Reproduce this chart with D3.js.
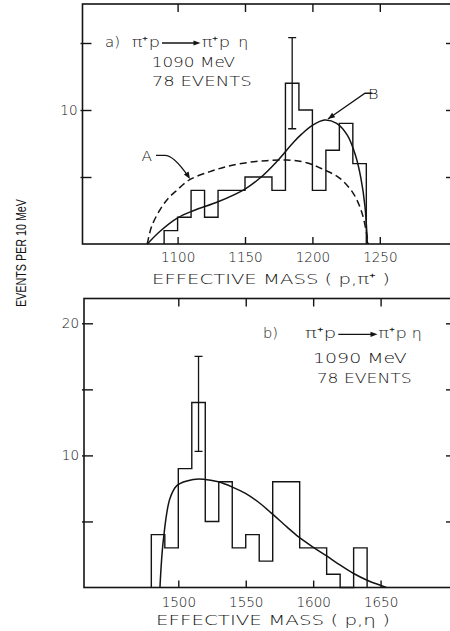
<!DOCTYPE html>
<html>
<head>
<meta charset="utf-8">
<script src="https://cdn.jsdelivr.net/npm/d3@7"></script>
<style>
  html, body { margin: 0; padding: 0; background: #fff; }
  svg { display: block; }
  text { font-family: "DejaVu Sans", sans-serif; font-weight: 300; fill: #141414; }
</style>
</head>
<body>
<svg id="chart" width="450" height="631"></svg>
<script>
// ---------- Panel (a): effective mass (p, pi+) ----------
const edgesA  = [1090, 1100, 1110, 1120, 1130, 1140, 1150, 1160, 1170, 1180, 1190, 1200, 1210, 1220, 1230, 1240];
const countsA = [1, 2, 4, 2, 4, 4, 5, 5, 4, 12, 10, 4, 7, 9, 6];
const errorA  = [1185, 8.6, 15.4];           // bin centre, low, high
// curve A (dashed): phase space
const curveAMass  = [1077.5, 1080.7, 1086.9, 1093, 1099.3, 1109, 1124, 1136.3, 1151.2, 1166, 1181, 1195.7, 1208, 1220.4, 1230.3, 1236.5, 1240.2, 1241.4];
const curveAValue = [0, 1.3, 2.55, 3.4, 4.0, 4.8, 5.4, 5.77, 6.07, 6.22, 6.27, 6.07, 5.57, 4.9, 3.78, 2.41, 0.8, 0];
// curve B (solid)
const curveBMass  = [1077.5, 1087, 1100, 1112, 1130, 1150, 1162, 1174, 1186, 1192, 1200, 1209, 1218, 1226, 1232, 1236, 1239, 1240.8];
const curveBValue = [0, 0.95, 1.95, 2.5, 3.15, 4.1, 5.0, 6.2, 7.6, 8.2, 8.85, 9.25, 9.0, 8.1, 6.6, 4.9, 2.8, 0];
const xTicksA = [1100, 1150, 1200, 1250];
const yTicksA = [5, 10, 15];
const yLabelsA = [10];

// ---------- Panel (b): effective mass (p, eta) ----------
const edgesB  = [1480, 1490, 1500, 1510, 1520, 1530, 1540, 1550, 1560, 1570, 1580, 1590, 1600, 1610, 1620, 1630, 1640];
const countsB = [4, 3, 9, 14, 5, 8, 3, 4, 2, 8, 8, 3, 3, 1, 0, 3];
const errorB  = [1515, 10.3, 17.5];
const curveCMass  = [1486.4, 1488.9, 1493.8, 1499.3, 1511.1, 1518.6, 1529.7, 1539.7, 1549.8, 1560.7, 1569.9, 1580.5, 1589.2, 1599.6, 1610.3, 1620.1, 1630, 1640, 1649.8, 1654.3];
const curveCValue = [0, 3.58, 6.74, 7.75, 8.18, 8.2, 8.0, 7.62, 7.12, 6.36, 5.55, 4.59, 3.83, 3.08, 2.37, 1.69, 1.06, 0.55, 0.17, 0];
const xTicksB = [1500, 1550, 1600, 1650];
const yTicksB = [5, 10, 15, 20];
const yLabelsB = [10, 20];

const ink = "#141414";
const svg = d3.select("#chart");

function txt(g, str, x0, x1, baseline, size) {
  return g.append("text")
    .attr("x", x0).attr("y", baseline)
    .attr("font-size", size)
    .attr("textLength", x1 - x0)
    .attr("lengthAdjust", "spacingAndGlyphs")
    .text(str);
}

function arrowHead(g, tipX, tipY, angle, len, half) {
  const c = Math.cos(angle), s = Math.sin(angle);
  const bx = tipX - len * c, by = tipY - len * s;
  g.append("path")
    .attr("d", `M${tipX},${tipY}L${bx - half * s},${by + half * c}L${bx + half * s},${by - half * c}Z`)
    .attr("fill", ink);
}

function drawPanel(cfg) {
  const g = svg.append("g");
  const x = d3.scaleLinear().domain(cfg.xKnown).range(cfg.xPix);
  const y = d3.scaleLinear().domain(cfg.yKnown).range(cfg.yPix);
  const base = y(0);

  // frame (right side runs just past the page edge)
  g.append("rect")
    .attr("x", cfg.left).attr("y", cfg.top)
    .attr("width", 453 - cfg.left).attr("height", base - cfg.top)
    .attr("fill", "none").attr("stroke", ink).attr("stroke-width", 1.6);

  const styleAxis = a => {
    a.attr("font-family", null).attr("font-size", null).attr("color", ink);
    a.select(".domain").remove();
    a.selectAll(".tick line").attr("stroke-width", 1.4);
  };

  // bottom axis: inward ticks, numeric labels
  g.append("g").attr("transform", `translate(0,${base})`)
    .call(d3.axisBottom(x).tickValues(cfg.xTicks).tickSizeInner(-7).tickSizeOuter(0)
      .tickPadding(cfg.xPad).tickFormat(d3.format("d")))
    .call(styleAxis)
    .call(a => a.selectAll("text").attr("font-size", 13.5).attr("fill", ink));

  // top border ticks
  g.append("g").attr("transform", `translate(0,${cfg.top})`)
    .call(d3.axisTop(x).tickValues(cfg.xTicks).tickSizeInner(-8).tickSizeOuter(0).tickFormat(""))
    .call(styleAxis);

  // left axis
  g.append("g").attr("transform", `translate(${cfg.left},0)`)
    .call(d3.axisLeft(y).tickValues(cfg.yTicks).tickSizeInner(-9).tickSizeOuter(0)
      .tickPadding(5).tickFormat(d => cfg.yLabels.includes(d) ? d3.format("d")(d) : ""))
    .call(styleAxis)
    .call(a => a.selectAll(".tick line").attr("x1", -2))
    .call(a => a.selectAll("text").attr("font-size", 13.5).attr("fill", ink));

  // right border ticks
  g.append("g").attr("transform", `translate(453,0)`)
    .call(d3.axisRight(y).tickValues(cfg.yTicks).tickSizeInner(-7).tickSizeOuter(0).tickFormat(""))
    .call(styleAxis);

  // histogram outline
  const pts = [[cfg.edges[0], 0]];
  cfg.counts.forEach((c, i) => { pts.push([cfg.edges[i], c]); pts.push([cfg.edges[i + 1], c]); });
  pts.push([cfg.edges[cfg.edges.length - 1], 0]);
  g.append("path")
    .attr("d", d3.line().x(d => x(d[0])).y(d => y(d[1]))(pts))
    .attr("fill", "none").attr("stroke", ink).attr("stroke-width", 1.4)
    .attr("stroke-linejoin", "miter");

  // error bar
  const [em, lo, hi] = cfg.err;
  const ex = x(em);
  g.append("path")
    .attr("d", `M${ex},${y(lo)}V${y(hi)}M${ex - 4},${y(lo)}H${ex + 4}M${ex - 4},${y(hi)}H${ex + 4}`)
    .attr("fill", "none").attr("stroke", ink).attr("stroke-width", 1.3);

  // model curves
  const line = d3.line().x(d => x(d[0])).y(d => y(d[1])).curve(d3.curveCatmullRom.alpha(0.5));
  cfg.curves.forEach(c => {
    g.append("path")
      .attr("d", line(d3.zip(c.mass, c.value)))
      .attr("fill", "none").attr("stroke", ink).attr("stroke-width", 1.5)
      .attr("stroke-dasharray", c.dash || null);
  });

  return { g, x, y };
}

// ----- panel (a) -----
const pA = drawPanel({
  xKnown: [1100, 1250], xPix: [177.6, 379.8],
  yKnown: [0, 10], yPix: [244, 110],
  left: 82.5, top: 4,
  xTicks: xTicksA, yTicks: yTicksA, yLabels: yLabelsA, xPad: 8.5,
  edges: edgesA, counts: countsA, err: errorA,
  curves: [
    { mass: curveAMass, value: curveAValue, dash: "7,4" },
    { mass: curveBMass, value: curveBValue }
  ]
});

// ----- panel (b) -----
const pB = drawPanel({
  xKnown: [1500, 1650], xPix: [178.3, 380.6],
  yKnown: [0, 20], yPix: [587.5, 323.3],
  left: 84, top: 298.5,
  xTicks: xTicksB, yTicks: yTicksB, yLabels: yLabelsB, xPad: 10,
  edges: edgesB, counts: countsB, err: errorB,
  curves: [ { mass: curveCMass, value: curveCValue } ]
});

// ----- curve labels A and B with pointers -----
{
  const { g, x, y } = pA;
  txt(g, "A", 141.5, 152, 160.5, 14);
  const s = [x(1084), y(6.62)], h = [x(1090.5), y(6.62)], tip = [x(1109.2), y(4.85)];
  g.append("path")
    .attr("d", `M${s[0]},${s[1]}L${h[0]},${h[1]}Q${h[0] + 9},${h[1]} ${tip[0] - 2},${tip[1] - 3}`)
    .attr("fill", "none").attr("stroke", ink).attr("stroke-width", 1.3);
  arrowHead(g, tip[0], tip[1], Math.atan2(tip[1] - h[1] - 6, tip[0] - h[0] - 14), 7, 2.8);

  txt(g, "B", 368, 378.5, 98.5, 14);
  const b0 = [x(1244.5), y(11.25)], b1 = [x(1239), y(11.25)], bt = [x(1211.5), y(9.33)];
  g.append("path")
    .attr("d", `M${b0[0]},${b0[1]}L${b1[0]},${b1[1]}L${bt[0]},${bt[1]}`)
    .attr("fill", "none").attr("stroke", ink).attr("stroke-width", 1.3);
  arrowHead(g, bt[0], bt[1], Math.atan2(bt[1] - b1[1], bt[0] - b1[0]), 7, 2.8);
}

// ----- reaction headers -----
function reaction(g, tag, tagX, x0, arrowX0, arrowX1, x2, etaX, baseline) {
  txt(g, tag, tagX, tagX + 15, baseline, 14);
  txt(g, "π⁺p", x0, arrowX0 - 2, baseline, 14);
  const ay = baseline - 4;
  g.append("line").attr("x1", arrowX0).attr("x2", arrowX1 - 5).attr("y1", ay).attr("y2", ay)
    .attr("stroke", ink).attr("stroke-width", 1.3);
  arrowHead(g, arrowX1, ay, 0, 7, 2.6);
  txt(g, "π⁺p", x2, x2 + 28.5, baseline, 14);
  txt(g, "η", etaX, etaX + 10, baseline, 14);
}
reaction(pA.g, "a)", 105, 131.7, 162, 200.5, 201.7, 238.3, 47);
txt(pA.g, "1090 MeV", 151.7, 235, 66.5, 14);
txt(pA.g, "78 EVENTS", 151.7, 251.7, 85.5, 14);

reaction(pB.g, "b)", 263, 305, 338.3, 377.5, 378.3, 411.7, 338.3);
txt(pB.g, "1090 MeV", 313, 406.7, 363.3, 14);
txt(pB.g, "78 EVENTS", 316.7, 411.7, 383.3, 14);

// ----- axis titles -----
txt(svg, "EFFECTIVE MASS ( p,π⁺ )", 152, 390, 283.5, 14);
txt(svg, "EFFECTIVE MASS ( p,η )", 156, 390, 625, 14);

svg.append("text")
  .attr("transform", "translate(26,253) rotate(-90)")
  .attr("text-anchor", "middle")
  .attr("font-size", 14)
  .attr("textLength", 108)
  .attr("lengthAdjust", "spacingAndGlyphs")
  .style("font-family", "'Liberation Sans', Arial, sans-serif")
  .style("font-weight", 400)
  .text("EVENTS PER 10 MeV");
</script>
</body>
</html>
